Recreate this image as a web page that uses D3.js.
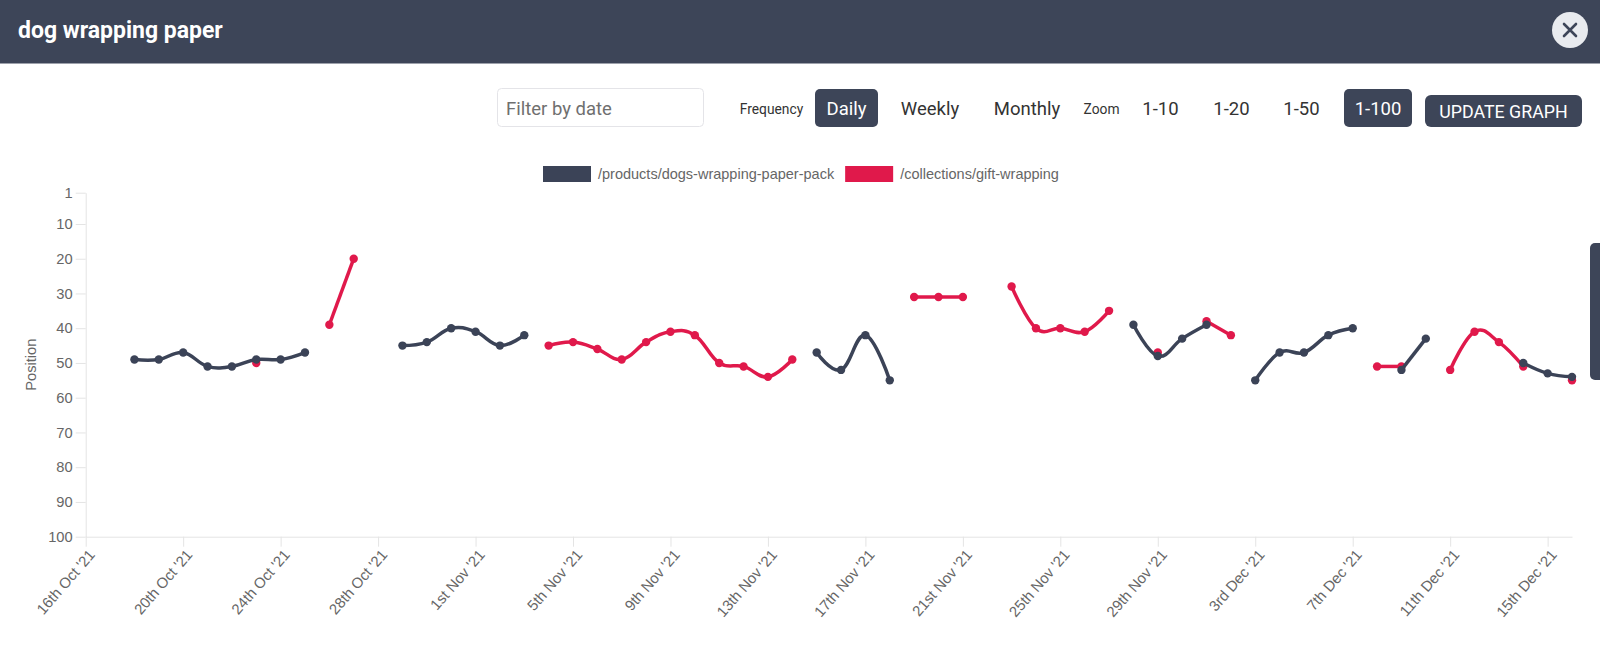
<!DOCTYPE html>
<html>
<head>
<meta charset="utf-8">
<script src="https://cdn.jsdelivr.net/npm/d3@7"></script>
<style>
  html, body { margin: 0; padding: 0; background: #fff; overflow: hidden; }
  svg { display: block; }
</style>
</head>
<body>
<div class="main"></div>
<script>
// ---- data ----
const pageTitle = "dog wrapping paper"
const seriesNames = ["/products/dogs-wrapping-paper-pack", "/collections/gift-wrapping"]
const dateRange = ["2021-10-16", "2021-12-16"]
const yTicks = [1, 10, 20, 30, 40, 50, 60, 70, 80, 90, 100]
const frequencyOptions = ["Daily", "Weekly", "Monthly"]
const zoomOptions = ["1-10", "1-20", "1-50", "1-100"]

const productPositions = [
    ["2021-10-18", 49], ["2021-10-19", 49], ["2021-10-20", 47], ["2021-10-21", 51],
    ["2021-10-22", 51], ["2021-10-23", 49], ["2021-10-24", 49], ["2021-10-25", 47],
    ["2021-10-29", 45], ["2021-10-30", 44], ["2021-10-31", 40], ["2021-11-01", 41],
    ["2021-11-02", 45], ["2021-11-03", 42],
    ["2021-11-15", 47], ["2021-11-16", 52], ["2021-11-17", 42], ["2021-11-18", 55],
    ["2021-11-28", 39], ["2021-11-29", 48], ["2021-11-30", 43], ["2021-12-01", 39],
    ["2021-12-03", 55], ["2021-12-04", 47], ["2021-12-05", 47], ["2021-12-06", 42],
    ["2021-12-07", 40],
    ["2021-12-09", 52], ["2021-12-10", 43],
    ["2021-12-14", 50], ["2021-12-15", 53], ["2021-12-16", 54]
]

const giftPositions = [
    ["2021-10-23", 50],
    ["2021-10-26", 39], ["2021-10-27", 20],
    ["2021-11-04", 45], ["2021-11-05", 44], ["2021-11-06", 46], ["2021-11-07", 49],
    ["2021-11-08", 44], ["2021-11-09", 41], ["2021-11-10", 42], ["2021-11-11", 50],
    ["2021-11-12", 51], ["2021-11-13", 54], ["2021-11-14", 49],
    ["2021-11-19", 31], ["2021-11-20", 31], ["2021-11-21", 31],
    ["2021-11-23", 28], ["2021-11-24", 40], ["2021-11-25", 40], ["2021-11-26", 41],
    ["2021-11-27", 35],
    ["2021-11-29", 47],
    ["2021-12-01", 38], ["2021-12-02", 42],
    ["2021-12-08", 51], ["2021-12-09", 51],
    ["2021-12-11", 52], ["2021-12-12", 41], ["2021-12-13", 44], ["2021-12-14", 51],
    ["2021-12-16", 55]
]

// ---- page ----
const W = 1600, H = 664
const navy = "#3d4558", darkLine = "#3b4357", redLine = "#e0194b"
const uiFont = "Roboto, 'Liberation Sans', sans-serif"
const chartFont = "'Liberation Sans', Arial, Helvetica, sans-serif"

const svg = d3.select(".main")
    .append("svg")
    .attr("width", W)
    .attr("height", H)

// header bar
svg.append("rect").attr("width", W).attr("height", 63.5).attr("fill", navy)
svg.append("text")
    .attr("x", 18).attr("y", 37.5)
    .attr("fill", "#fff")
    .style("font", `700 23px ${uiFont}`)
    .text(pageTitle)

// close button
const close = svg.append("g").attr("transform", "translate(1570,30)")
close.append("circle").attr("r", 18).attr("fill", "#e9ebef")
close.append("path")
    .attr("d", "M-6,-6L6,6M6,-6L-6,6")
    .attr("stroke", navy).attr("stroke-width", 2.6).attr("stroke-linecap", "round")

// side tab on the right edge
svg.append("rect")
    .attr("x", 1590).attr("y", 243).attr("width", 20).attr("height", 137)
    .attr("rx", 5).attr("fill", navy)

// ---- controls row ----
const ctl = svg.append("g").style("font-family", uiFont)

ctl.append("rect")
    .attr("x", 497.5).attr("y", 88.5).attr("width", 206).attr("height", 38)
    .attr("rx", 4).attr("fill", "#fff").attr("stroke", "#e4e4e8")
ctl.append("text")
    .attr("x", 506).attr("y", 114.5)
    .attr("fill", "#6f6f6f").style("font-size", "18.5px")
    .text("Filter by date")

ctl.append("text")
    .attr("x", 771.5).attr("y", 113.5).attr("text-anchor", "middle")
    .attr("fill", "#333").style("font-size", "13.8px")
    .text("Frequency")

const freqCenters = [846.5, 930, 1027]
frequencyOptions.forEach((label, i) => {
    if (i === 0) {
        ctl.append("rect")
            .attr("x", 815).attr("y", 89).attr("width", 63).attr("height", 38)
            .attr("rx", 5).attr("fill", navy)
    }
    ctl.append("text")
        .attr("x", freqCenters[i]).attr("y", 114.5).attr("text-anchor", "middle")
        .attr("fill", i === 0 ? "#fff" : "#333").style("font-size", "18.5px")
        .text(label)
})

ctl.append("text")
    .attr("x", 1101.5).attr("y", 113.5).attr("text-anchor", "middle")
    .attr("fill", "#333").style("font-size", "13.8px")
    .text("Zoom")

const zoomCenters = [1160.5, 1231.5, 1301.5, 1378]
zoomOptions.forEach((label, i) => {
    const active = i === zoomOptions.length - 1
    if (active) {
        ctl.append("rect")
            .attr("x", 1344).attr("y", 89).attr("width", 68).attr("height", 38)
            .attr("rx", 5).attr("fill", navy)
    }
    ctl.append("text")
        .attr("x", zoomCenters[i]).attr("y", 114.5).attr("text-anchor", "middle")
        .attr("fill", active ? "#fff" : "#333").style("font-size", "18.5px")
        .text(label)
})

ctl.append("rect")
    .attr("x", 1425).attr("y", 95).attr("width", 157).attr("height", 32)
    .attr("rx", 6).attr("fill", navy)
ctl.append("text")
    .attr("x", 1503.5).attr("y", 117.5).attr("text-anchor", "middle")
    .attr("fill", "#fff").style("font-size", "17.8px")
    .text("UPDATE GRAPH")

// ---- chart ----
const parse = d3.utcParse("%Y-%m-%d")
const plot = { left: 85.7, right: 1572, top: 192.7, bottom: 536.7 }

const x = d3.scaleUtc()
    .domain(dateRange.map(parse))
    .range([plot.left, plot.right])

const y = d3.scaleLinear()
    .domain([1, 100])
    .range([plot.top, plot.bottom])

function ordinal(n) {
    if (n % 100 >= 11 && n % 100 <= 13) return n + "th"
    return n + ({ 1: "st", 2: "nd", 3: "rd" }[n % 10] || "th")
}
const monthYear = d3.utcFormat("%b '%y")
const tickFormat = d => `${ordinal(d.getUTCDate())} ${monthYear(d)}`

const xTicks = d3.utcDay.range(x.domain()[0], d3.utcDay.offset(x.domain()[1], 1), 4)

const chart = svg.append("g").style("font-family", chartFont)

const yAxis = chart.append("g")
    .attr("transform", `translate(${plot.left},0)`)
    .call(d3.axisLeft(y).tickValues(yTicks).tickSize(10).tickPadding(3).tickSizeOuter(0))
yAxis.selectAll("text").style("font-size", "14.7px").attr("fill", "#666")

const xAxis = chart.append("g")
    .attr("transform", `translate(0,${plot.bottom})`)
    .call(d3.axisBottom(x).tickValues(xTicks).tickFormat(tickFormat).tickSize(10).tickSizeOuter(0))
xAxis.selectAll("text")
    .style("font-size", "14.9px").attr("fill", "#666")
    .attr("text-anchor", "end")
    .attr("x", 0).attr("y", 0).attr("dy", "0.72em")
    .attr("transform", "translate(1.5,11.5) rotate(-49)")

chart.selectAll(".domain, .tick line").attr("stroke", "#e4e4e4")

chart.append("text")
    .attr("transform", `translate(31,${(plot.top + plot.bottom) / 2}) rotate(-90)`)
    .attr("text-anchor", "middle").attr("dominant-baseline", "central")
    .attr("fill", "#666").style("font-size", "14.7px")
    .text("Position")

// split a series into runs of consecutive days (gaps break the line)
function runs(rows) {
    const pts = rows.map(([d, v]) => ({ date: parse(d), value: v }))
    const out = []
    pts.forEach((p, i) => {
        if (i === 0 || d3.utcDay.count(pts[i - 1].date, p.date) > 1) out.push([])
        out[out.length - 1].push(p)
    })
    return out
}

const line = d3.line()
    .x(d => x(d.date))
    .y(d => y(d.value))
    .curve(d3.curveCardinal.tension(-0.2))

const series = [
    { name: seriesNames[0], rows: productPositions, color: darkLine },
    { name: seriesNames[1], rows: giftPositions, color: redLine }
]

// the first dataset is painted last so it sits on top
series.slice().reverse().forEach(s => {
    const g = chart.append("g")
    g.selectAll("path")
        .data(runs(s.rows))
        .join("path")
        .attr("d", line)
        .attr("fill", "none")
        .attr("stroke", s.color)
        .attr("stroke-width", 3.5)
        .attr("stroke-linejoin", "round")
    g.selectAll("circle")
        .data(s.rows.map(([d, v]) => ({ date: parse(d), value: v })))
        .join("circle")
        .attr("cx", d => x(d.date))
        .attr("cy", d => y(d.value))
        .attr("r", 4.2)
        .attr("fill", s.color)
})

// legend
const legend = chart.append("g").attr("transform", "translate(543,166)")
let lx = 0
series.forEach(s => {
    legend.append("rect")
        .attr("x", lx).attr("y", 0).attr("width", 48).attr("height", 16)
        .attr("fill", s.color)
    const t = legend.append("text")
        .attr("x", lx + 55).attr("y", 8).attr("dominant-baseline", "central")
        .attr("fill", "#666").style("font-size", "14.5px")
        .text(s.name)
    lx += 55 + t.node().getComputedTextLength() + 11
})
</script>
</body>
</html>
